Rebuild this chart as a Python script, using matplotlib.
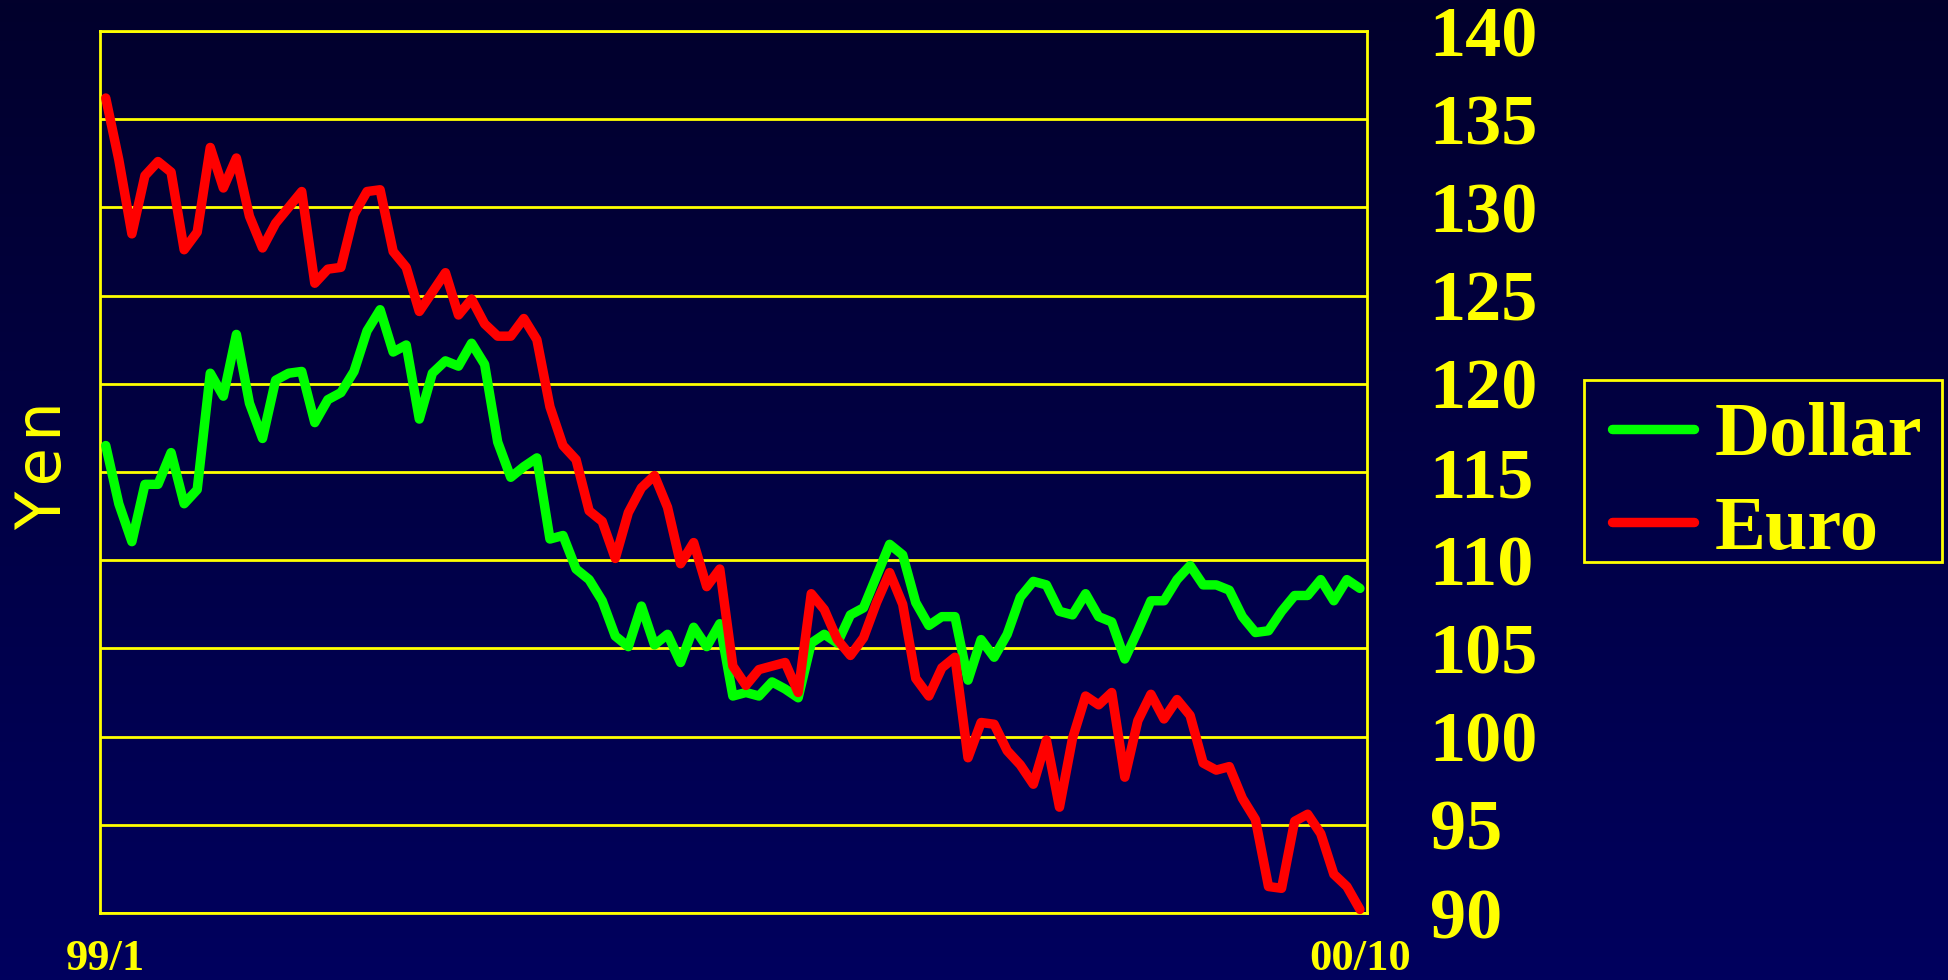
import numpy as np
import matplotlib
matplotlib.use("Agg")
import matplotlib.pyplot as plt
from matplotlib.colors import LinearSegmentedColormap
from matplotlib.patches import Rectangle

# weekly yen rates, 99/1 .. 00/10
dollar = [116.5, 113.2, 111.05, 114.3, 114.3, 116.1, 113.2, 114.0, 120.6, 119.3,
          122.8, 118.9, 116.9, 120.2, 120.6, 120.7, 117.8, 119.1, 119.5, 120.7,
          123.0, 124.2, 121.8, 122.2, 118.0, 120.6, 121.3, 121.0, 122.3, 121.1,
          116.7, 114.7, 115.3, 115.8, 111.2, 111.4, 109.5, 108.9, 107.7, 105.7,
          105.1, 107.4, 105.2, 105.8, 104.2, 106.2, 105.1, 106.4, 102.3, 102.5,
          102.3, 103.1, 102.7, 102.2, 105.3, 105.8, 105.3, 106.9, 107.3, 109.1,
          110.9, 110.3, 107.6, 106.3, 106.8, 106.8, 103.2, 105.5, 104.5, 105.8,
          107.9, 108.8, 108.6, 107.1, 106.9, 108.1, 106.8, 106.5, 104.4, 106.0,
          107.7, 107.7, 108.9, 109.7, 108.6, 108.6, 108.3, 106.8, 105.9, 106.0,
          107.1, 108.0, 108.0, 108.9, 107.7, 108.9, 108.4]
euro = [136.2, 132.7, 128.5, 131.8, 132.6, 132.0, 127.6, 128.6, 133.4, 131.1,
        132.8, 129.5, 127.7, 129.1, 130.0, 130.9, 125.7, 126.5, 126.6, 129.6,
        130.9, 131.0, 127.5, 126.6, 124.1, 125.2, 126.3, 123.9, 124.8, 123.4,
        122.7, 122.7, 123.7, 122.5, 118.7, 116.5, 115.7, 112.8, 112.2, 110.1,
        112.7, 114.1, 114.8, 113.0, 109.8, 111.0, 108.5, 109.5, 104.0, 102.9,
        103.8, 104.0, 104.2, 102.5, 108.1, 107.2, 105.5, 104.6, 105.6, 107.6,
        109.3, 107.5, 103.3, 102.3, 103.9, 104.5, 98.8, 100.8, 100.7, 99.2,
        98.4, 97.3, 99.8, 96.0, 99.9, 102.3, 101.8, 102.5, 97.7, 100.9,
        102.4, 101.0, 102.1, 101.2, 98.5, 98.1, 98.3, 96.5, 95.3, 91.5,
        91.4, 95.2, 95.6, 94.5, 92.2, 91.5, 90.2]
x_labels = ["99/1", "00/10"]
y_ticks = [90, 95, 100, 105, 110, 115, 120, 125, 130, 135, 140]

YEL = "#ffff00"
W, H = 1948, 980
fig = plt.figure(figsize=(W / 100, H / 100), dpi=100)

# dark blue gradient background
bg = fig.add_axes([0, 0, 1, 1], zorder=-10)
cmap = LinearSegmentedColormap.from_list("bg", ["#02002c", "#00005e"])
bg.imshow(np.linspace(0, 1, 256).reshape(-1, 1), aspect="auto", cmap=cmap,
          extent=[0, 1, 0, 1])
bg.axis("off")

ax = fig.add_axes([100 / W, 67 / H, 1267 / W, 882 / H])
ax.patch.set_alpha(0)

x = np.arange(len(dollar))
ax.plot(x, dollar, color="#00ff00", lw=6.8, solid_joinstyle="round",
        solid_capstyle="round", label="Dollar", clip_on=False, zorder=3)
ax.plot(x, euro, color="#ff0000", lw=6.8, solid_joinstyle="round",
        solid_capstyle="round", label="Euro", clip_on=False, zorder=3)

ax.set_xlim(-0.44, len(dollar) - 1 + 0.54)
ax.set_ylim(90, 140)
ax.yaxis.tick_right()
ax.set_yticks(y_ticks)
ax.set_xticks([0, len(dollar) - 1])
ax.set_xticklabels(x_labels)
ax.tick_params(axis="y", length=0, pad=45, labelsize=52, labelcolor=YEL)
ax.tick_params(axis="x", length=0, pad=19, labelsize=32, labelcolor=YEL)
for lab in ax.get_xticklabels() + ax.get_yticklabels():
    lab.set_family("Liberation Serif")
    lab.set_weight("bold")
ax.grid(axis="y", color=YEL, lw=2)
for s in ax.spines.values():
    s.set_color(YEL)
    s.set_linewidth(2)

fig.text(44 / W, 1 - 466 / H, "Y\u200ae\u200an", rotation=90, ha="center",
         va="center", fontsize=45, family="DejaVu Sans", color=YEL)

# legend content without frame, frame drawn as its own box
leg = fig.legend(loc="upper left", bbox_to_anchor=(1612 / W, 1 - 402 / H),
                 borderaxespad=0, frameon=False,
                 prop={"family": "Liberation Serif", "weight": "bold", "size": 55},
                 handlelength=1.077, handletextpad=0.27, borderpad=0,
                 labelspacing=0.315, labelcolor=YEL)
fig.patches.append(Rectangle((1584 / W, 1 - 561.8 / H), 358 / W, 182.2 / H,
                             transform=fig.transFigure, fill=False,
                             edgecolor=YEL, lw=2))

fig.savefig("out.png", dpi=100)
